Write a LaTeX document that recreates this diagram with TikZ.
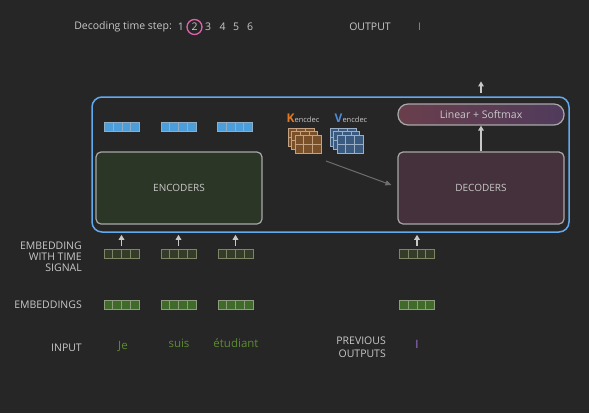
\documentclass[tikz,border=0pt]{standalone}
\usepackage{fontspec}
\setmainfont{Open Sans}
\usetikzlibrary{calc,arrows.meta}

\definecolor{bgdark}{HTML}{262626}
\definecolor{txtgray}{HTML}{C8C8C8}
\definecolor{frameblue}{HTML}{62AAF0}
\definecolor{encfill}{HTML}{2C3627}
\definecolor{decfill}{HTML}{45313B}
\definecolor{linl}{HTML}{693E4B}
\definecolor{linr}{HTML}{503B5C}
\definecolor{boxline}{HTML}{A8A8A8}
\definecolor{wordgreen}{HTML}{5C8C32}
\definecolor{outpurple}{HTML}{A274D6}
\definecolor{steppink}{HTML}{E062AA}
\definecolor{korange}{HTML}{E27A22}
\definecolor{vblue}{HTML}{4C8CDA}
\definecolor{kfill}{HTML}{7A5028}
\definecolor{kline}{HTML}{C2A282}
\definecolor{vfill}{HTML}{3A5A80}
\definecolor{vline}{HTML}{9AAFC6}
\definecolor{bluevec}{HTML}{4C9EDA}
\definecolor{bluevecline}{HTML}{8DAEC6}
\definecolor{timevec}{HTML}{343C29}
\definecolor{timevecline}{HTML}{7E8564}
\definecolor{embvec}{HTML}{3F6A2A}
\definecolor{embvecline}{HTML}{8C9C7C}
\definecolor{kvarrow}{HTML}{6E6E6E}

\def\kvsheet[#1](#2,#3){\draw[#1] (#2,#3) rectangle ++(26,18); \draw[#1] ($(#2,#3)+(0,9)$) -- ++(26,0); \draw[#1] ($(#2,#3)+(8.7,0)$) -- ++(0,18); \draw[#1] ($(#2,#3)+(17.3,0)$) -- ++(0,18);}

\tikzset{
	lbl/.style={font=\fontsize{10.5}{11}\selectfont, text=txtgray, inner sep=0pt},
	word/.style={font=\fontsize{11.5}{12}\selectfont, text=wordgreen, inner sep=0pt},
	block/.style={draw=boxline, line width=1.2pt, rounded corners=5pt, minimum width=166pt, minimum height=72pt, text=txtgray, font=\fontsize{10}{11}\selectfont},
	vecnode/.style={draw=#1, minimum width=35pt, minimum height=9pt, inner sep=0pt, line width=0.6pt,
		path picture={\foreach \k in {1,2,3} \draw[#1, line width=0.6pt] ($(path picture bounding box.north west)!\k/4!(path picture bounding box.north east)$) -- ($(path picture bounding box.south west)!\k/4!(path picture bounding box.south east)$);}},
	uparrow/.style={draw=txtgray, line width=1.3pt, -{Triangle[length=5pt,width=5.5pt]}},
}

\begin{document}
\begin{tikzpicture}[x=1pt, y=-1pt]
		%%%%% START %%%%%
		
		\useasboundingbox (0,0) rectangle (589,413);
		\fill[bgdark] (0,0) rectangle (589,413);
		
		% time steps
		\node[lbl, anchor=east] (steplbl) at (172,27) {Decoding time step:};
		\foreach \n/\x in {1/181,2/194.5,3/208,4/222.5,5/236,6/250}
			\node[lbl] (t\n) at (\x,27) {\n};
		\draw[steppink, line width=1.3pt] (t2) circle[radius=7.5pt];
		
		\node[lbl] (outlbl) at (370,27) {OUTPUT};
		\node[lbl, text=outpurple] (outword) at (419.5,27) {I};
		
		% frame
		\node[draw=frameblue, line width=1.5pt, rounded corners=10pt, minimum width=477pt, minimum height=135pt] (frame) at (330.5,164.5) {};
		
		\node[block, fill=encfill] (enc) at (179,188) {ENCODERS};
		\node[block, fill=decfill] (dec) at (481,188) {DECODERS};
		\node[draw=boxline, line width=1.2pt, rounded corners=10pt, left color=linl, right color=linr, minimum width=166pt, minimum height=21pt, text=txtgray, font=\fontsize{10.5}{11}\selectfont] (lin) at (481,114.5) {Linear + Softmax};
		
		\draw[uparrow] (dec.north) -- (lin.south);
		\draw[uparrow] ([yshift=10pt]lin.north) -- ([yshift=22pt]lin.north);
		
		% encoder outputs
		\node[vecnode=bluevecline, fill=bluevec] (o1) at (122,126.5) {};
		\node[vecnode=bluevecline, fill=bluevec] (o2) at (178.5,126.5) {};
		\node[vecnode=bluevecline, fill=bluevec] (o3) at (235,126.5) {};
		
		% K and V
		\node[inner sep=0pt, text=txtgray] (klbl) at (303,118) {{\fontsize{12}{12}\selectfont\bfseries\color{korange}K}{\fontsize{7.5}{8}\selectfont encdec}};
		\node[inner sep=0pt, text=txtgray] (vlbl) at (351,118) {{\fontsize{12}{12}\selectfont\bfseries\color{vblue}V}{\fontsize{7.5}{8}\selectfont encdec}};
		\foreach \i in {0,1,2} {
			\kvsheet[fill=kfill, draw=kline, line width=0.6pt](288+3.5*\i,128+3.5*\i)
			\kvsheet[fill=vfill, draw=vline, line width=0.6pt](330+3.5*\i,128+3.5*\i)
		}
		\coordinate (kvout) at (326,161);
		\draw[kvarrow, line width=1pt, -{Triangle[length=6pt,width=5pt]}] (kvout) -- ([xshift=-6pt,yshift=3pt]dec.west);
		
		% embeddings with time signal
		\node[vecnode=timevecline, fill=timevec] (ts1) at (121.5,253.5) {};
		\node[vecnode=timevecline, fill=timevec] (ts2) at (178.5,253.5) {};
		\node[vecnode=timevecline, fill=timevec] (ts3) at (235.5,253.5) {};
		\node[vecnode=timevecline, fill=timevec] (ts4) at (417,253.5) {};
		\foreach \k in {1,2,3,4}
			\draw[uparrow] ([yshift=3pt]ts\k.north) -- ([yshift=-2pt]ts\k.north |- frame.south);
		
		% embeddings
		\node[vecnode=embvecline, fill=embvec] (em1) at (121.5,305) {};
		\node[vecnode=embvecline, fill=embvec] (em2) at (178.5,305) {};
		\node[vecnode=embvecline, fill=embvec] (em3) at (235.5,305) {};
		\node[vecnode=embvecline, fill=embvec] (em4) at (417,305) {};
		
		% labels
		\node[lbl, anchor=east, align=right] (tslbl) at (82,257) {EMBEDDING\\WITH TIME\\SIGNAL};
		\node[lbl, anchor=east] (emblbl) at (82,305) {EMBEDDINGS};
		\node[lbl, anchor=east] (inlbl) at (82,348) {INPUT};
		\node[lbl, anchor=east, align=right, font=\fontsize{10.5}{13.5}\selectfont] (prevlbl) at (386,347) {PREVIOUS\\OUTPUTS};
		
		% words
		\node[word] (w1) at (123,346) {Je};
		\node[word] (w2) at (179,343) {suis};
		\node[word] (w3) at (236,343) {étudiant};
		\node[word, text=outpurple] (w4) at (417,344) {I};
		
		%%%%% END %%%%%
	\end{tikzpicture}
\end{document}
